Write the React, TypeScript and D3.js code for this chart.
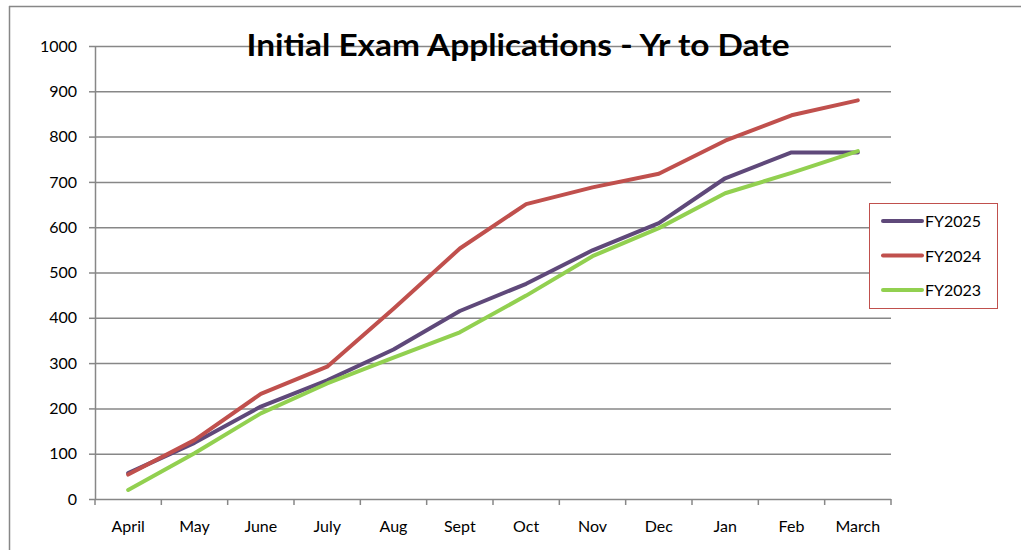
import { useRef, useEffect } from "react";
import { select, scaleBand, scaleLinear, line, axisLeft } from "d3";

const months = ["April", "May", "June", "July", "Aug", "Sept", "Oct", "Nov", "Dec", "Jan", "Feb", "March"];
const fy2025 = [57, 124, 204, 262, 330, 415, 475, 549, 609, 708, 765, 765];
const fy2024 = [54, 130, 232, 292, 420, 553, 651, 688, 718, 791, 847, 880];
const fy2023 = [20, 101, 189, 255, 312, 368, 449, 536, 598, 675, 720, 768];
const yTicks = [0, 100, 200, 300, 400, 500, 600, 700, 800, 900, 1000];

const series = [
  { name: "FY2025", values: fy2025, color: "#5f497a" },
  { name: "FY2024", values: fy2024, color: "#c0504d" },
  { name: "FY2023", values: fy2023, color: "#92d050" },
];

const width = 1021;
const height = 550;
const left = 95;
const right = 891;
const top = 46;
const bottom = 499;
const font = "Lato, 'Open Sans', sans-serif";

function Chart() {
  const svgRef = useRef<SVGSVGElement>(null);
  useEffect(() => {
    const svg = select(svgRef.current);
    svg.selectAll("*").remove();

    const x = scaleBand<string>().domain(months).range([left, right]).padding(0);
    const y = scaleLinear().domain([0, 1000]).range([bottom, top]);
    const grid = "#878787";

    // outer chart border (only top and left visible)
    svg.append("line").attr("x1", 9).attr("x2", width).attr("y1", 6.5).attr("y2", 6.5)
      .attr("stroke", grid).attr("stroke-width", 1.5);
    svg.append("line").attr("x1", 9.5).attr("x2", 9.5).attr("y1", 6).attr("y2", height)
      .attr("stroke", grid).attr("stroke-width", 1.5);

    // y gridlines and axis
    const yAxis = svg.append("g").attr("transform", `translate(${left},0)`)
      .call(axisLeft(y).tickValues(yTicks).tickFormat((d) => String(d))
        .tickSize(6).tickSizeOuter(0).tickPadding(12));
    yAxis.select(".domain").attr("stroke", grid).attr("stroke-width", 1.5);
    yAxis.selectAll(".tick line").attr("stroke", grid).attr("stroke-width", 1.5);
    yAxis.selectAll(".tick text").attr("font-family", font).attr("font-size", 16).attr("fill", "#000");
    yAxis.selectAll(".tick").append("line")
      .attr("x1", 0).attr("x2", right - left).attr("y1", 0).attr("y2", 0)
      .attr("stroke", grid).attr("stroke-width", 1.5);

    // x axis with ticks at band edges
    const xg = svg.append("g");
    const edges = [...months.map((m) => x(m) as number), right];
    xg.selectAll("line.tk").data(edges).enter().append("line")
      .attr("x1", (d) => d).attr("x2", (d) => d).attr("y1", bottom).attr("y2", bottom + 6)
      .attr("stroke", grid).attr("stroke-width", 1.5);
    xg.selectAll("text").data(months).enter().append("text")
      .attr("x", (d) => (x(d) as number) + x.bandwidth() / 2)
      .attr("y", 532)
      .attr("text-anchor", "middle")
      .attr("font-family", font).attr("font-size", 16)
      .text((d) => d);

    // lines
    const gen = line<number>()
      .x((_, i) => (x(months[i]) as number) + x.bandwidth() / 2)
      .y((d) => y(d));
    svg.selectAll("path.series").data(series).enter().append("path")
      .attr("class", "series")
      .attr("d", (s) => gen(s.values))
      .attr("fill", "none")
      .attr("stroke", (s) => s.color)
      .attr("stroke-width", 4)
      .attr("stroke-linejoin", "round")
      .attr("stroke-linecap", "round");

    // title
    svg.append("text")
      .attr("x", 518).attr("y", 56)
      .attr("text-anchor", "middle")
      .attr("font-family", font).attr("font-weight", "bold").attr("font-size", 30)
      .attr("textLength", 543).attr("lengthAdjust", "spacingAndGlyphs")
      .text("Initial Exam Applications - Yr to Date");

    // legend
    const lg = svg.append("g");
    lg.append("rect").attr("x", 869.5).attr("y", 203.5).attr("width", 128).attr("height", 105)
      .attr("fill", "#fff").attr("stroke", "#c0504d").attr("stroke-width", 1);
    const items = lg.selectAll("g.item").data(series).enter().append("g")
      .attr("transform", (_, i) => `translate(0,${221 + i * 34.5})`);
    items.append("line").attr("x1", 883).attr("x2", 922).attr("y1", 0).attr("y2", 0)
      .attr("stroke", (s) => s.color).attr("stroke-width", 4).attr("stroke-linecap", "round");
    items.append("text").attr("x", 925).attr("y", 6)
      .attr("font-family", font).attr("font-size", 16)
      .text((s) => s.name);
  }, []);
  return <svg ref={svgRef} width={width} height={height} style={{ position: "absolute", left: 0, top: 0 }} />;
}

export default function App() {
  return <Chart />;
}
